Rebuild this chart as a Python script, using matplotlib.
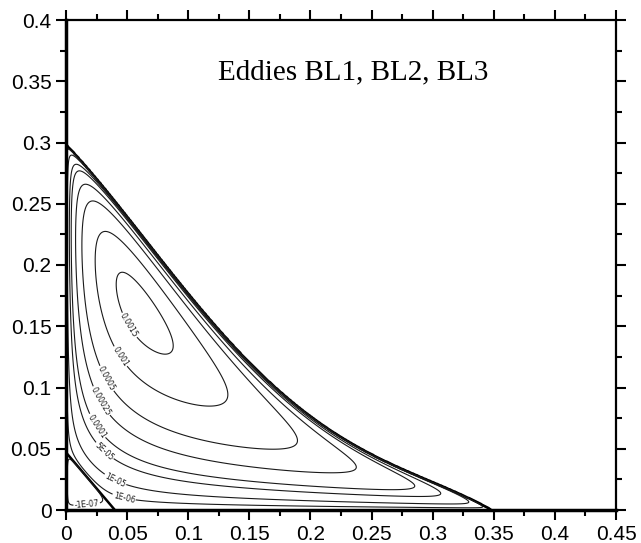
import matplotlib
matplotlib.use("Agg")
import matplotlib.pyplot as plt
import numpy as np

# stream function levels and their labels
levels = [-1e-7, 1e-6, 1e-5, 5e-5, 1e-4, 2.5e-4, 5e-4, 1e-3, 1.5e-3]
level_labels = ["-1E-07", "1E-06", "1E-05", "5E-05", "0.0001", "0.00025",
                "0.0005", "0.001", "0.0015"]
# where each label sits (x, y)
label_pos = [(0.017, 0.004), (0.047, 0.008), (0.040, 0.024), (0.034, 0.051),
             (0.032, 0.073), (0.034, 0.092), (0.038, 0.110), (0.047, 0.127),
             (0.052, 0.151)]

# separatrix of the big eddy
sep_end = 0.348
sep_x = [0.0, 0.017, 0.028, 0.055, 0.082, 0.118, 0.145, 0.206, 0.246, 0.300]
sep_y = [0.293, 0.280, 0.269, 0.239, 0.201, 0.149, 0.124, 0.071, 0.050, 0.022]
# separatrix of the small corner eddy
corner_x, corner_y = 0.040, 0.047

# eye of the eddy
eye_x, eye_y, eye_psi = 0.061, 0.161, 0.0016

# points read on the contours: level, x, y
trace_level = ([1.5e-3] * 7 + [1e-3] * 9 + [5e-4] * 7 + [2.5e-4] * 6 + [1e-4] * 6
               + [5e-5] * 5 + [1e-5] * 4 + [1e-6] * 2)
trace_x = [0.051, 0.0727, 0.044, 0.078, 0.0455, 0.063, 0.063,
           0.026, 0.025, 0.030, 0.075, 0.0956, 0.130, 0.101, 0.047, 0.063,
           0.022, 0.0155, 0.0106, 0.037, 0.150, 0.203, 0.104,
           0.0155, 0.0087, 0.0065, 0.034, 0.150, 0.251,
           0.0098, 0.006, 0.0046, 0.032, 0.150, 0.286,
           0.0074, 0.004, 0.034, 0.150, 0.304,
           0.0047, 0.040, 0.150, 0.327,
           0.047, 0.150]
trace_y = [0.186, 0.1366, 0.171, 0.150, 0.160, 0.1415, 0.182,
           0.160, 0.195, 0.225, 0.195, 0.160, 0.105, 0.0953, 0.1265, 0.114,
           0.253, 0.160, 0.212, 0.108, 0.049, 0.056, 0.160,
           0.268, 0.160, 0.212, 0.092, 0.034, 0.033,
           0.278, 0.160, 0.212, 0.073, 0.0235, 0.016,
           0.283, 0.160, 0.051, 0.0155, 0.012,
           0.287, 0.024, 0.0099, 0.007,
           0.008, 0.0048]

xticks = [0, 0.05, 0.1, 0.15, 0.2, 0.25, 0.3, 0.35, 0.4, 0.45]
xticklabels = ["0", "0.05", "0.1", "0.15", "0.2", "0.25", "0.3", "0.35", "0.4", "0.45"]
yticks = [0, 0.05, 0.1, 0.15, 0.2, 0.25, 0.3, 0.35, 0.4]
yticklabels = ["0", "0.05", "0.1", "0.15", "0.2", "0.25", "0.3", "0.35", "0.4"]

# smooth separatrix through the read points, ending at sep_end
sx, sy = np.array(sep_x), np.array(sep_y)
sep_poly = np.polyfit(sx, sy / (sep_end - sx), 3)


def sep_height(x):
    return np.where(x < sep_end, (sep_end - x) * np.polyval(sep_poly, x), 0.0)


def feats(x, y):
    # log psi is linear in these terms
    b = sep_height(x)
    d = np.clip(1 - y / np.maximum(b, 1e-9), 1e-6, None)
    X, Y = x / 0.35, y / 0.3
    return np.stack([np.ones_like(X), np.log(X), np.log(Y), np.log(d),
                     X, Y, X**2, X * Y, Y**2], axis=-1)


def log_corner(x, y):
    s = x / corner_x + y / corner_y
    return np.log(np.abs(1 - 1 / s**2))


# fit the stream function to the points
tx, ty = np.array(trace_x), np.array(trace_y)
rows = [feats(tx, ty)]
rhs = [np.log(trace_level) - log_corner(tx, ty)]
ex, ey = np.array([eye_x]), np.array([eye_y])
h = 1e-4
rows.append(3 * feats(ex, ey))
rhs.append(3 * (np.log([eye_psi]) - log_corner(ex, ey)))
for dx, dy in [(h, 0), (0, h)]:
    gf = (feats(ex + dx, ey + dy) - feats(ex - dx, ey - dy)) / (2 * h)
    gc = (log_corner(ex + dx, ey + dy) - log_corner(ex - dx, ey - dy)) / (2 * h)
    rows.append(0.3 * gf)
    rhs.append(-0.3 * gc)
coef = np.linalg.lstsq(np.vstack(rows), np.concatenate(rhs), rcond=None)[0]

x = np.linspace(1e-5, 0.45, 1000)
y = np.linspace(1e-5, 0.4, 900)
XX, YY = np.meshgrid(x, y)
inside = YY < sep_height(XX)
s = XX / corner_x + YY / corner_y
lp = feats(XX, YY) @ coef
psi = np.where(inside, np.exp(np.clip(lp, -60, 5)) * (1 - 1 / s**2), -1e-9)
psi = np.clip(psi, -1e-6, None)

fig = plt.figure(figsize=(6.41, 5.43), dpi=100)
ax = fig.add_axes([66/641, 33/543, 550/641, 490/543])

ax.contour(XX, YY, psi, levels=[0.0], colors="k", linewidths=1.8)
for lv, lab, pos in zip(levels, level_labels, label_pos):
    cs = ax.contour(XX, YY, psi, levels=[lv], colors="#1a1a1a", linewidths=0.8,
                    linestyles="solid")
    if len(cs.allsegs[0]) > 0:
        ax.clabel(cs, fmt={lv: lab}, fontsize=5.5, inline=True,
                  inline_spacing=1, manual=[pos])

ax.text(0.124, 0.357, "Eddies BL1, BL2, BL3", fontsize=21,
        family="Liberation Serif", va="center")

ax.set_xlim(0, 0.45)
ax.set_ylim(0, 0.4)
ax.set_xticks(xticks)
ax.set_xticklabels(xticklabels)
ax.set_yticks(yticks)
ax.set_yticklabels(yticklabels)
ax.set_xticks(np.arange(0.025, 0.45, 0.05), minor=True)
ax.set_yticks(np.arange(0.025, 0.4, 0.05), minor=True)
ax.tick_params(which="both", direction="out", top=True, right=True,
               labelsize=15, width=1.5)
ax.tick_params(which="major", length=7)
ax.tick_params(which="minor", length=4)
for lab in ax.get_xticklabels() + ax.get_yticklabels():
    lab.set_family("Liberation Sans")
ax.spines["left"].set_linewidth(2.5)
ax.spines["bottom"].set_linewidth(2.5)
ax.spines["top"].set_linewidth(1.6)
ax.spines["right"].set_linewidth(1.6)

fig.savefig("out.png", dpi=100)
